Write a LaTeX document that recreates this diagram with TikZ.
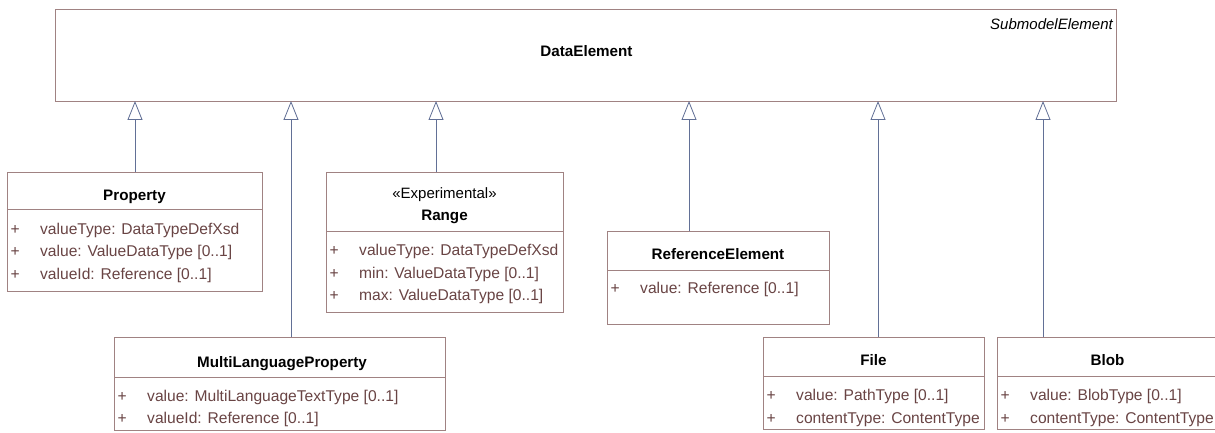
\documentclass[tikz,border=0pt]{standalone}
\usepackage{fontspec}
\setmainfont{Liberation Sans}
\usetikzlibrary{arrows.meta}
\definecolor{boxc}{RGB}{160,130,130}
\definecolor{attrc}{RGB}{105,68,68}
\definecolor{linec}{RGB}{98,112,150}
\newcommand\umlrow[4]{\node[att] (#1) at (#2,#3) {\makebox[33pt][l]{\hspace{3.5pt}+}#4};}
\begin{document}
\begin{tikzpicture}[x=1pt,y=-1pt,
  cls/.style={draw=boxc, line width=0.8pt, anchor=north west, inner sep=0pt, fill=white},
  ttl/.style={font=\fontsize{15.2}{18}\selectfont\bfseries, anchor=base, inner sep=0pt},
  ster/.style={font=\fontsize{15}{18}\selectfont, anchor=base, inner sep=0pt},
  att/.style={font=\fontsize{15.6}{18}\selectfont, text=attrc, anchor=base west, inner sep=0pt},
  divl/.style={draw=boxc, line width=0.8pt},
  gen/.style={draw=linec, line width=0.8pt, -{Triangle[open,length=19pt,width=15pt,line width=0.8pt]}}]
\useasboundingbox (0,0) rectangle (1215,433);
\fill[white] (0,0) rectangle (1215,433);

% DataElement
\node[cls, minimum width=1061pt, minimum height=92pt] (de) at (55,9) {};
\node[ttl] (deT) at (586.5,56.5) {DataElement};
\node[font=\fontsize{15}{18}\selectfont\itshape, anchor=base east, inner sep=0pt] (deS) at (1113,29.5) {SubmodelElement};

% Property
\node[cls, minimum width=255pt, minimum height=119pt] (prop) at (7,172) {};
\draw[divl] ([yshift=-37pt]prop.north west) -- ([yshift=-37pt]prop.north east);
\node[ttl] (propT) at (134.5,200) {Property};
\umlrow{p1}{7}{234}{valueType: DataTypeDefXsd}
\umlrow{p2}{7}{256.5}{value: ValueDataType [0..1]}
\umlrow{p3}{7}{279}{valueId: Reference [0..1]}

% Range
\node[cls, minimum width=237pt, minimum height=140pt] (rng) at (326,172) {};
\draw[divl] ([yshift=-59pt]rng.north west) -- ([yshift=-59pt]rng.north east);
\node[ster] (rngS) at (444.5,198) {«Experimental»};
\node[ttl] (rngT) at (444.5,220.5) {Range};
\umlrow{r1}{326}{255.5}{valueType: DataTypeDefXsd}
\umlrow{r2}{326}{278}{min: ValueDataType [0..1]}
\umlrow{r3}{326}{300.5}{max: ValueDataType [0..1]}

% ReferenceElement
\node[cls, minimum width=222pt, minimum height=93pt] (ref) at (607,231) {};
\draw[divl] ([yshift=-39pt]ref.north west) -- ([yshift=-39pt]ref.north east);
\node[ttl] (refT) at (718,259.5) {ReferenceElement};
\umlrow{e1}{607}{293.5}{value: Reference [0..1]}

% MultiLanguageProperty
\node[cls, minimum width=331pt, minimum height=93pt] (mlp) at (114,337) {};
\draw[divl] ([yshift=-40pt]mlp.north west) -- ([yshift=-40pt]mlp.north east);
\node[ttl] (mlpT) at (282,367) {MultiLanguageProperty};
\umlrow{m1}{114}{401}{value: MultiLanguageTextType [0..1]}
\umlrow{m2}{114}{423}{valueId: Reference [0..1]}

% File
\node[cls, minimum width=221pt, minimum height=92pt] (file) at (763,337) {};
\draw[divl] ([yshift=-39pt]file.north west) -- ([yshift=-39pt]file.north east);
\node[ttl] (fileT) at (873.5,365.5) {File};
\umlrow{f1}{763}{400.5}{value: PathType [0..1]}
\umlrow{f2}{763}{423}{contentType: ContentType}

% Blob
\node[cls, minimum width=221pt, minimum height=92pt] (blob) at (997,337) {};
\draw[divl] ([yshift=-39pt]blob.north west) -- ([yshift=-39pt]blob.north east);
\node[ttl] (blobT) at (1107.5,365.5) {Blob};
\umlrow{b1}{997}{400.5}{value: BlobType [0..1]}
\umlrow{b2}{997}{423}{contentType: ContentType}

% generalisation end points on DataElement
\coordinate (g1) at (135,101);
\coordinate (g2) at (291,101);
\coordinate (g3) at (436,101);
\coordinate (g4) at (689,101);
\coordinate (g5) at (878,101);
\coordinate (g6) at (1043,101);
\draw[gen] (prop.north -| g1) -- (g1);
\draw[gen] (mlp.north -| g2) -- (g2);
\draw[gen] (rng.north -| g3) -- (g3);
\draw[gen] (ref.north -| g4) -- (g4);
\draw[gen] (file.north -| g5) -- (g5);
\draw[gen] (blob.north -| g6) -- (g6);
\end{tikzpicture}
\end{document}
